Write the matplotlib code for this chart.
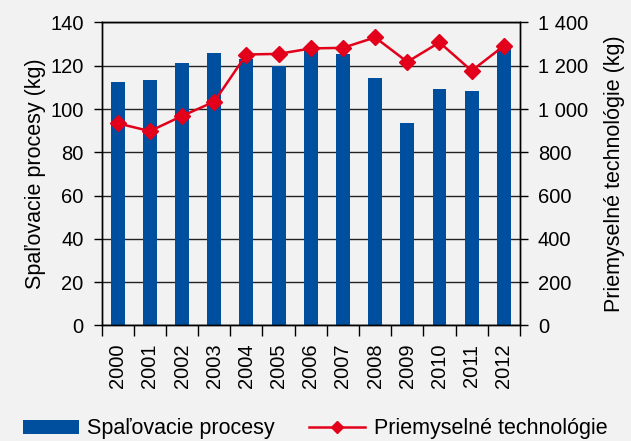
import numpy as np
import matplotlib.pyplot as plt
from matplotlib.ticker import FuncFormatter, MultipleLocator

plt.rcParams['font.family'] = ['Liberation Sans', 'DejaVu Sans']

years = ['2000', '2001', '2002', '2003', '2004', '2005', '2006',
         '2007', '2008', '2009', '2010', '2011', '2012']
spalovacie = [112.6, 113.4, 121.4, 126.0, 123.1, 120.0, 127.6,
              125.5, 114.3, 93.5, 109.2, 108.4, 127.7]
priemyselne = [934, 898, 968, 1034, 1252, 1255, 1280,
               1283, 1331, 1218, 1308, 1177, 1292]

bg = '#f2f2f2'
blue = '#004f9f'
red = '#e2001a'

fig = plt.figure(figsize=(6.31, 4.41), dpi=100, facecolor=bg)
ax = fig.add_axes([0.161, 0.262, 0.663, 0.687], facecolor=bg)
ax2 = ax.twinx()

x = np.arange(len(years))
ax.bar(x, spalovacie, width=0.43, color=blue, zorder=2, label='Spaľovacie procesy')
ax2.plot(x, priemyselne, color=red, lw=1.8, marker='D', markersize=8.5,
         label='Priemyselné technológie', zorder=3)

ax.set_xlim(-0.5, len(years) - 0.5)
ax.set_ylim(0, 140)
ax2.set_ylim(0, 1400)
ax.yaxis.set_major_locator(MultipleLocator(20))
ax2.yaxis.set_major_locator(MultipleLocator(200))
ax2.yaxis.set_major_formatter(FuncFormatter(lambda v, p: '{:,.0f}'.format(v).replace(',', ' ')))

ax.grid(axis='y', color='#222222', lw=1.0, zorder=0)
ax.set_axisbelow(True)

ax.set_xticks(x)
ax.set_xticklabels(years, rotation=90, fontsize=14.5)
ax.set_xticks(np.arange(len(years) + 1) - 0.5, minor=True)
ax.tick_params(axis='x', which='major', length=0, pad=13)
ax.tick_params(axis='x', which='minor', length=8, width=1, direction='out')
ax.tick_params(axis='y', length=6, width=1, pad=7, labelsize=14.5)
ax2.tick_params(axis='y', length=6, width=1, pad=7, labelsize=14.5)

for a in (ax, ax2):
    for s in a.spines.values():
        s.set_color('black')
        s.set_linewidth(1.0)

ax.set_ylabel('Spaľovacie procesy (kg)', fontsize=15.5, labelpad=3)
ax2.set_ylabel('Priemyselné technológie (kg)', fontsize=15.5, labelpad=11)

h1, l1 = ax.get_legend_handles_labels()
h2, l2 = ax2.get_legend_handles_labels()
fig.legend(h1 + h2, l1 + l2, loc='lower left', bbox_to_anchor=(0.005, -0.04),
           ncol=2, frameon=False, fontsize=15.5, handlelength=2.6,
           handleheight=0.65, columnspacing=1.6, handletextpad=0.4,
           markerscale=0.7)

fig.savefig('out.png', dpi=100, facecolor=bg)
